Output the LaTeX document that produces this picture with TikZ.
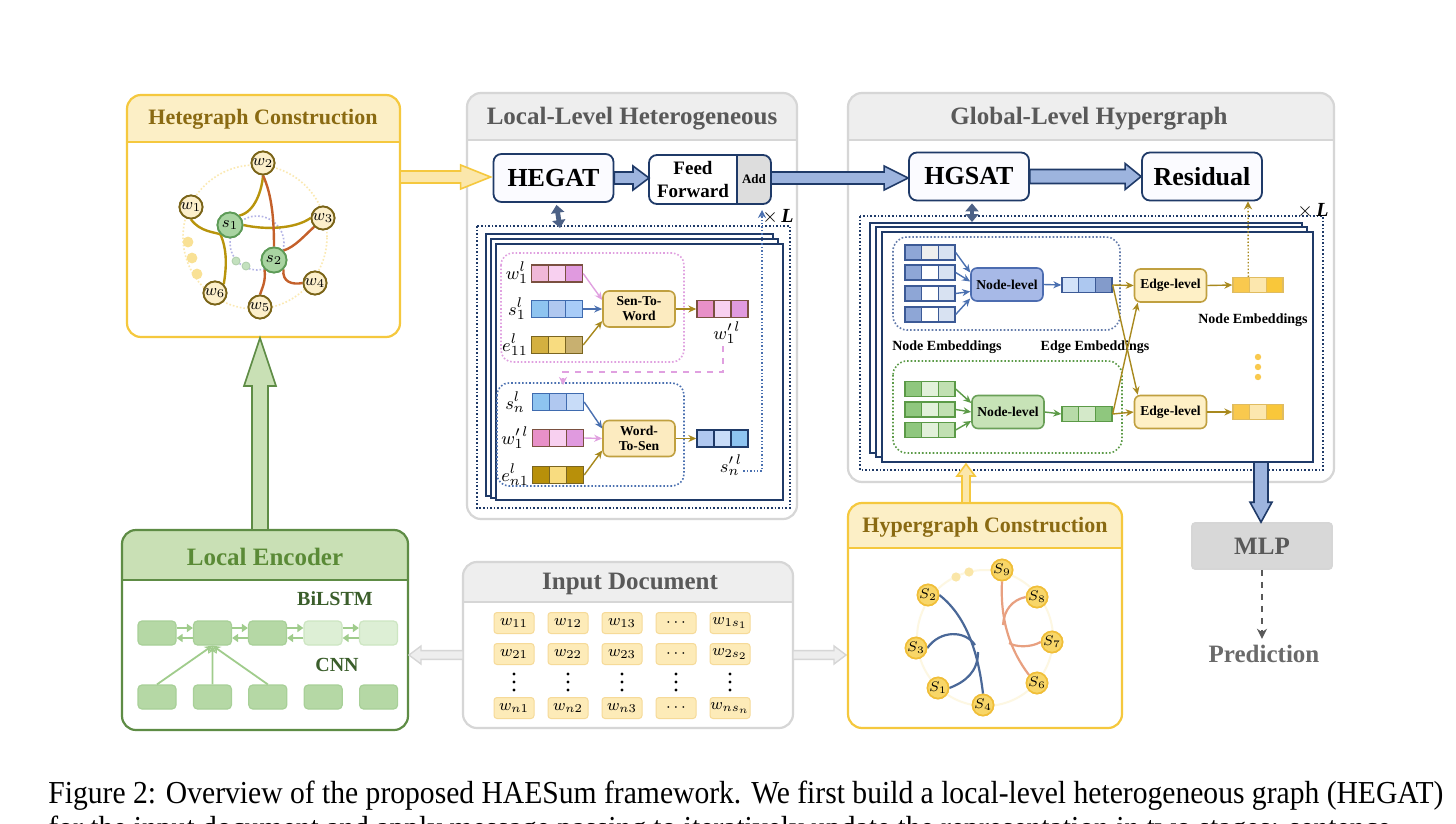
\documentclass[tikz,border=0pt]{standalone}
\usepackage{fontspec}
\setmainfont{Liberation Serif}
\usetikzlibrary{arrows.meta,calc}
\definecolor{ybord}{HTML}{F5C83E}
\definecolor{yhead}{HTML}{FCEFC6}
\definecolor{ytitle}{HTML}{8A6A12}
\definecolor{gbord}{HTML}{D6D6D6}
\definecolor{ghead}{HTML}{EEEEEE}
\definecolor{gtitle}{HTML}{595959}
\definecolor{navy}{HTML}{1F3A68}
\definecolor{barrow}{HTML}{9DB4DE}
\definecolor{grbord}{HTML}{5E8C45}
\definecolor{grhead}{HTML}{C9E0B5}
\definecolor{grtitle}{HTML}{5A8A36}
\definecolor{grdark}{HTML}{3B5E2B}
\definecolor{olive}{HTML}{A8891E}
\definecolor{wfill}{HTML}{FCEFCB}
\definecolor{wbord}{HTML}{7A6418}
\definecolor{sfill}{HTML}{A9D4A2}
\definecolor{sbord}{HTML}{5D9B57}
\definecolor{eS}{HTML}{B8940C}
\definecolor{eT}{HTML}{C4602A}
\definecolor{boxfill}{HTML}{FCEBC0}
\definecolor{boxbord}{HTML}{C0A040}
\definecolor{pinkA}{HTML}{F0B8D8}
\definecolor{pinkB}{HTML}{F8D0F0}
\definecolor{pinkC}{HTML}{E09ADF}
\definecolor{pinkD}{HTML}{E890C8}
\definecolor{pinkbord}{HTML}{7A5040}
\definecolor{pinkline}{HTML}{E0A0E0}
\definecolor{blA}{HTML}{8EC4F0}
\definecolor{blB}{HTML}{B0C8F0}
\definecolor{blC}{HTML}{A8CCF8}
\definecolor{blD}{HTML}{C8DCF8}
\definecolor{blbord}{HTML}{3F6BAF}
\definecolor{blline}{HTML}{4A70B0}
\definecolor{goA}{HTML}{D4B040}
\definecolor{goB}{HTML}{F8DC80}
\definecolor{goC}{HTML}{C8B070}
\definecolor{goD}{HTML}{B8900A}
\definecolor{gobord}{HTML}{7A6520}
\definecolor{gbA}{HTML}{8EA6D6}
\definecolor{gbB}{HTML}{D8E2F2}
\definecolor{gbbord}{HTML}{3C5A96}
\definecolor{nlb}{HTML}{A7B9E7}
\definecolor{nlbb}{HTML}{4C6CB0}
\definecolor{ggA}{HTML}{8FC77E}
\definecolor{ggB}{HTML}{E2F1DA}
\definecolor{ggC}{HTML}{C1E0B2}
\definecolor{ggbord}{HTML}{5B9A47}
\definecolor{nlg}{HTML}{C7E3B7}
\definecolor{nlgb}{HTML}{6AA058}
\definecolor{elf}{HTML}{FEF0C6}
\definecolor{ygA}{HTML}{F9C94E}
\definecolor{ygB}{HTML}{FCE7AE}
\definecolor{ygC}{HTML}{F9C73A}
\definecolor{ygbord}{HTML}{E0BC60}
\definecolor{lcell}{HTML}{B5D8A5}
\definecolor{lcellb}{HTML}{A8D098}
\definecolor{lcellL}{HTML}{DDEFD5}
\definecolor{lcellLb}{HTML}{CDE6C2}
\definecolor{lgarrow}{HTML}{A0CC8C}
\definecolor{docfill}{HTML}{FDEBB8}
\definecolor{docbord}{HTML}{F6DA98}
\definecolor{hnf}{HTML}{F8D668}
\definecolor{hnb}{HTML}{F0BE38}
\definecolor{hblue}{HTML}{4A6898}
\definecolor{horange}{HTML}{E8A080}

\newcommand\harrow[6]{\path[#6] let \p1=#1, \p2=#2 in
 (\x1,{\y1+#3}) -- ({\x2-(#5)},{\y1+#3}) -- ({\x2-(#5)},{\y1+#4}) -- (\x2,\y1) -- ({\x2-(#5)},{\y1-#4}) -- ({\x2-(#5)},{\y1-#3}) -- (\x1,{\y1-#3}) -- cycle;}
\newcommand\varrow[6]{\path[#6] let \p1=#1, \p2=#2 in
 ({\x1-#3},\y1) -- ({\x1-#3},{\y2-(#5)}) -- ({\x1-#4},{\y2-(#5)}) -- (\x1,\y2) -- ({\x1+#4},{\y2-(#5)}) -- ({\x1+#3},{\y2-(#5)}) -- ({\x1+#3},\y1) -- cycle;}
\newcommand\panel[7]{%
 \begin{scope}
 \clip[rounded corners=7pt] (#1,#2) rectangle (#3,#4);
 \fill[white] (#1,#2) rectangle (#3,#4);
 \fill[#6] (#1,#2) rectangle (#3,#5);
 \end{scope}
 \draw[#7, line width=1.1pt, rounded corners=7pt] (#1,#2) rectangle (#3,#4);
 \draw[#7, line width=1.1pt] (#1,#5) -- (#3,#5);}
\newcommand\emb[9]{%
 \node[#2,fill=#6,draw=#9] (#1a) at ({#4-#3},#5) {};
 \node[#2,fill=#7,draw=#9] (#1b) at (#4,#5) {};
 \node[#2,fill=#8,draw=#9] (#1c) at ({#4+#3},#5) {};}

\begin{document}
\begin{tikzpicture}[x=0.5pt,y=-0.5pt,
 ttl/.style={font=\bfseries\fontsize{11}{13}\selectfont},
 bigttl/.style={font=\bfseries\fontsize{12.5}{14}\selectfont},
 cellbox/.style={rectangle, minimum width=8.5pt, minimum height=8.5pt, inner sep=0pt, line width=0.7pt},
 gcell/.style={rectangle, minimum width=8.35pt, minimum height=7.5pt, inner sep=0pt, line width=0.6pt},
 wnode/.style={circle, minimum size=11.5pt, inner sep=0pt, fill=wfill, draw=wbord, line width=0.9pt, font=\fontsize{8.5}{8.5}\selectfont},
 snode/.style={circle, minimum size=12.5pt, inner sep=0pt, fill=sfill, draw=sbord, line width=0.9pt, font=\fontsize{8.5}{8.5}\selectfont},
 hnode/.style={circle, minimum size=10pt, inner sep=0pt, fill=hnf, draw=hnb, line width=0.8pt, font=\fontsize{7.5}{7.5}\selectfont},
 mainbox/.style={rectangle, rounded corners=4pt, fill=ghead!60!blue!4, draw=navy, line width=0.9pt, minimum width=60pt, minimum height=24pt, font=\bfseries\fontsize{13}{13}\selectfont},
 opbox/.style={rectangle, rounded corners=3pt, fill=boxfill, draw=boxbord, line width=0.8pt, minimum width=36pt, minimum height=18pt, align=center, inner sep=1pt, font=\bfseries\fontsize{6.8}{7.5}\selectfont},
 lvlbox/.style={rectangle, rounded corners=3pt, line width=0.8pt, minimum width=36pt, minimum height=16.5pt, inner sep=1pt, font=\bfseries\fontsize{6.8}{7.5}\selectfont},
 mlab/.style={font=\fontsize{9.5}{9.5}\selectfont, inner sep=0pt},
 smalllab/.style={font=\bfseries\fontsize{7}{8}\selectfont, inner sep=0pt},
 lcellst/.style={rectangle, rounded corners=2pt, minimum width=19pt, minimum height=12pt, inner sep=0pt, line width=0.6pt},
 doccell/.style={rectangle, rounded corners=1.5pt, minimum width=20pt, minimum height=10.5pt, inner sep=0pt, fill=docfill, draw=docbord, line width=0.5pt, font=\fontsize{8.5}{8.5}\selectfont},
 fatblue/.style={fill=barrow, draw=navy, line width=0.8pt},
 harr/.style={-{Stealth[length=4pt,width=3.5pt]}, line width=0.7pt},
 stackp/.style={fill=white, draw=navy, line width=0.7pt},
 dotbox/.style={draw=navy, densely dotted, line width=0.8pt}
]
\useasboundingbox[fill=white] (0,0) rectangle (1456,824);

%================ Hetegraph Construction
\panel{127}{95}{400}{337}{142}{yhead}{ybord}
\node[ttl, text=ytitle] (hetetitle) at (263,119) {Hetegraph Construction};
\coordinate (hete-e) at (400,177);
\coordinate (hete-s) at (260,338);
\draw[ybord!40, densely dotted, line width=0.8pt] (255,237) circle (36pt);
\draw[gray!50!blue!40, densely dotted, line width=0.8pt] (257,243) circle (13.5pt);
\foreach \p in {(188,242),(192,258),(197,274)} \fill[ybord!55] \p circle (2.7pt);
\foreach \p in {(236,261),(246,266)} \filldraw[fill=sfill!70, draw=sbord!50, line width=0.4pt] \p circle (2pt);
\node[snode] (s1) at (230,225) {$s_1$};
\node[snode] (s2) at (274,260) {$s_2$};
\node[wnode] (w1) at (191,207) {$w_1$};
\node[wnode] (w2) at (263,163) {$w_2$};
\node[wnode] (w3) at (323,218) {$w_3$};
\node[wnode] (w4) at (315,283) {$w_4$};
\node[wnode] (w5) at (260,307) {$w_5$};
\node[wnode] (w6) at (215,293) {$w_6$};
\begin{scope}[line width=1.2pt]
\draw[eS] (s1.north east) .. controls (255,212) and (262,190) .. (w2.south);
\draw[eS] (s1.east) .. controls (265,230) and (295,229) .. (w3.west);
\draw[eS] (w1.south) .. controls (200,232) and (215,232) .. (s1.south west);
\draw[eS] (s1.south west) .. controls (228,252) and (226,270) .. (w6.north east);
\draw[eT] (s2.north) .. controls (274,220) and (272,195) .. (w2.south);
\draw[eT] (s2.north east) .. controls (295,247) and (305,235) .. (w3.south west);
\draw[eT] (s2.south east) .. controls (282,282) and (292,285) .. (w4.west);
\draw[eT] (s2.south west) .. controls (266,282) and (262,288) .. (w5.north);
\end{scope}
\node[snode] at (s1) {$s_1$};
\node[snode] at (s2) {$s_2$};
\foreach \n/\t in {w1/1,w2/2,w3/3,w4/4,w5/5,w6/6} \node[wnode] at (\n) {$w_\t$};

%================ Local-Level Heterogeneous
\panel{467}{93}{797}{519}{140}{ghead}{gbord}
\node[bigttl, text=gtitle] (loctitle) at (632,119) {Local-Level Heterogeneous};
\node[mainbox] (hegat) at (553.5,178) {HEGAT};
\begin{scope}
\clip[rounded corners=4pt] (649,155) rectangle (771,204);
\fill[white] (649,155) rectangle (737,204);
\fill[ghead!85!gray] (737,155) rectangle (771,204);
\end{scope}
\draw[navy, line width=0.9pt, rounded corners=4pt] (649,155) rectangle (771,204);
\draw[navy, line width=0.9pt] (737,155) -- (737,204);
\node[align=center, font=\bfseries\fontsize{9.5}{11.5}\selectfont, inner sep=0pt] (ff) at (693,179.5) {Feed\\Forward};
\node[font=\bfseries\fontsize{6.5}{7}\selectfont, inner sep=0pt] (addn) at (754,179.5) {Add};
\coordinate (ff-w) at (649,178);
\coordinate (add-e) at (771,178);
\harrow{(hete-e)}{($(hegat.west)+(-2,0)$)}{3pt}{6pt}{15pt}{fill=yhead!80!ybord, draw=ybord, line width=0.8pt}
\harrow{(hegat.east)}{(ff-w)}{3pt}{6pt}{8pt}{fatblue}

% stack
\draw[dotbox] (477,226) rectangle (790,508);
\draw[stackp] (486,234) rectangle (773,496);
\draw[stackp] (491,239) rectangle (778,498);
\draw[stackp] (496,244) rectangle (783,500);
\draw[navy!80, line width=2.4pt, {Triangle[length=4pt,width=6.5pt]}-{Triangle[length=4pt,width=6.5pt]}] ($(hegat.south)+(3,2)$) -- (560,228);
\node[inner sep=0pt, font=\fontsize{10}{10}\selectfont] (xl1) at (778,217) {$\times$\,\textbf{\textit{L}}};

\draw[pinkline, densely dotted, line width=0.8pt, rounded corners=6pt] (501,253) rectangle (684,362);
\emb{wa}{cellbox}{17}{557}{273.5}{pinkA}{pinkB}{pinkC}{pinkbord}
\emb{sa}{cellbox}{17}{557}{309}{blA}{blB}{blC}{blbord}
\emb{ea}{cellbox}{17}{557}{345}{goA}{goB}{goC}{gobord}
\node[mlab] (walab) at (517,273) {$w_1^l$};
\node[mlab] (salab) at (517,309) {$s_1^l$};
\node[mlab] (ealab) at (515,345) {$e_{11}^l$};
\node[opbox] (stw) at (639,309) {Sen-To-\\Word};
\draw[harr, pinkline] (wac.east) -- ($(stw.west)+(0,-9)$);
\draw[harr, blline] (sac.east) -- (stw.west);
\draw[harr, olive] (eac.east) -- ($(stw.west)+(0,12)$);
\emb{wo}{cellbox}{17}{722.5}{309}{pinkD}{pinkB}{pinkC}{pinkbord}
\draw[harr, olive] (stw.east) -- (woa.west);
\node[mlab] (wolab) at (727,333) {$w_1'^{\,l}$};

\draw[blline, densely dotted, line width=0.8pt, rounded corners=6pt] (497,383) rectangle (684,486);
\draw[pinkline, dashed, line width=0.9pt, -{Stealth[length=4pt,width=4pt]}] ($(wolab.south)+(-4,2)$) -- (723,372) -- (563,372) -- (563,385);
\emb{sb}{cellbox}{17}{558}{402}{blA}{blB}{blD}{blbord}
\emb{wb}{cellbox}{17}{558}{438}{pinkD}{pinkB}{pinkC}{pinkbord}
\emb{eb}{cellbox}{17}{558}{475}{goD}{goB}{goD}{gobord}
\node[mlab] (sblab) at (515,402) {$s_n^l$};
\node[mlab] (wblab) at (515,438) {$w_1'^{\,l}$};
\node[mlab] (eblab) at (515,475) {$e_{n1}^l$};
\node[opbox] (wts) at (639,438.5) {Word-\\To-Sen};
\draw[harr, blline] (sbc.east) -- ($(wts.west)+(0,-10)$);
\draw[harr, pinkline] (wbc.east) -- (wts.west);
\draw[harr, olive] (ebc.east) -- ($(wts.west)+(0,12)$);
\emb{so}{cellbox}{17}{722.5}{438.5}{blB}{blD}{blA}{navy}
\draw[harr, olive] (wts.east) -- (soa.west);
\node[mlab] (solab) at (731,465) {$s_n'^{\,l}$};
\draw[blline, densely dotted, line width=0.7pt, -{Stealth[length=4pt,width=4pt]}] ($(solab.east)+(1,6)$) -| (762,210);

%================ Global-Level Hypergraph
\panel{848}{93}{1334}{482}{140}{ghead}{gbord}
\node[bigttl, text=gtitle] (globtitle) at (1089,119) {Global-Level Hypergraph};
\node[mainbox] (hgsat) at (969,176.5) {HGSAT};
\node[mainbox] (resid) at (1202,176.5) {Residual};
\harrow{(add-e)}{(hgsat.west)}{3pt}{6pt}{12pt}{fatblue}
\harrow{(hgsat.east)}{(resid.west)}{3.5pt}{6.5pt}{8pt}{fatblue}

\draw[dotbox] (860,216) rectangle (1323,470);
\draw[stackp] (870,223) rectangle (1302,453);
\draw[stackp] (876,227) rectangle (1307,457);
\draw[stackp] (882,232) rectangle (1313,462);
\draw[navy!80, line width=2.4pt, {Triangle[length=4pt,width=6.5pt]}-{Triangle[length=4pt,width=6.5pt]}] ($(hgsat.south)+(3,2)$) -- (972,222);
\node[inner sep=0pt, font=\fontsize{10}{10}\selectfont] (xl2) at (1313,211) {$\times$\,\textbf{\textit{L}}};

\draw[gbbord!80, densely dotted, line width=0.8pt, rounded corners=7pt] (893,237) rectangle (1120,330);
\emb{ga}{gcell}{16.7}{930}{252.5}{gbA}{ghead}{gbB}{gbbord}
\emb{gb}{gcell}{16.7}{930}{272.5}{gbA}{white}{gbB}{gbbord}
\emb{gc}{gcell}{16.7}{930}{293.5}{gbA}{white}{gbB}{gbbord}
\emb{gd}{gcell}{16.7}{930}{314.5}{gbA}{white}{gbB}{gbbord}
\node[lvlbox, fill=nlb, draw=nlbb] (nl1) at (1007,284.5) {Node-level};
\draw[harr, blline] (gac.east) -- ($(nl1.west)+(0,-12)$);
\draw[harr, blline] (gbc.east) -- ($(nl1.west)+(0,-3)$);
\draw[harr, blline] (gcc.east) -- ($(nl1.west)+(0,7)$);
\draw[harr, blline] (gdc.east) -- ($(nl1.west)+(0,14)$);
\emb{ge}{gcell}{16.7}{1087}{285}{blD!80!white}{blB!90!blA}{gbA!90!navy}{gbbord}
\draw[harr, blline] (nl1.east) -- (gea.west);
\node[smalllab] (nelab) at (947,347) {Node Embeddings};
\node[smalllab] (eelab) at (1095,347) {Edge Embeddings};

\draw[ggbord, densely dotted, line width=0.8pt, rounded corners=7pt] (893,361) rectangle (1122,453);
\emb{gf}{gcell}{16.7}{930}{389}{ggA}{ggB}{ggC}{ggbord}
\emb{gg}{gcell}{16.7}{930}{409.5}{ggA}{ggB}{ggC}{ggbord}
\emb{gh}{gcell}{16.7}{930}{430}{ggA}{ggB}{ggC}{ggbord}
\node[lvlbox, fill=nlg, draw=nlgb] (nl2) at (1008,412) {Node-level};
\draw[harr, ggbord] (gfc.east) -- ($(nl2.west)+(0,-9)$);
\draw[harr, ggbord] (ggc.east) -- (nl2.west);
\draw[harr, ggbord] (ghc.east) -- ($(nl2.west)+(0,9)$);
\emb{gi}{gcell}{16.7}{1087}{414}{ggC!80!ggA}{ggC!70!white}{ggA}{ggbord}
\draw[harr, ggbord] (nl2.east) -- (gia.west);

\node[lvlbox, fill=elf, draw=boxbord] (el1) at (1170.5,285.5) {Edge-level};
\node[lvlbox, fill=elf, draw=boxbord] (el2) at (1170.5,412) {Edge-level};
\draw[harr, olive] (gec.east) -- (el1.west);
\draw[harr, olive] (gec.east) -- ($(el2.north west)+(4,0)$);
\draw[harr, olive] (gic.east) -- (el2.west);
\draw[harr, olive] (gic.east) -- ($(el1.south west)+(4,0)$);
\emb{gj}{gcell}{16.7}{1258}{285}{ygA}{ygB}{ygC}{ygbord}
\emb{gk}{gcell}{16.7}{1258}{412}{ygA}{ygB}{ygC}{ygbord}
\draw[harr, olive] (el1.east) -- (gja.west);
\draw[harr, olive] (el2.east) -- (gka.west);
\node[smalllab] (nelab2) at (1253,320) {Node Embeddings};
\foreach \yy in {357,367,377} \fill[ygA] (1258,\yy) circle (1.6pt);
\draw[olive, densely dotted, line width=0.7pt, -{Stealth[length=4pt,width=4pt]}] ($(gja.north)+(7,0)$) -- ($(resid.south)+(46,0)$);

%================ MLP / Prediction
\node[rectangle, rounded corners=1.5pt, fill=ghead!80!gray, draw=gbord, line width=0.8pt, minimum width=70pt, minimum height=23pt, text=gtitle, font=\bfseries\fontsize{12.5}{13}\selectfont] (mlp) at (1262,546) {MLP};
\coordinate (gstack-s) at (1261,462);
\varrow{(gstack-s)}{($(mlp.north)+(-1,0)$)}{3.5pt}{5.5pt}{-10pt}{fatblue}
\node[text=gtitle!90!white, font=\bfseries\fontsize{12.5}{13}\selectfont, inner sep=0pt] (pred) at (1264,654) {Prediction};
\draw[gtitle, dashed, line width=0.9pt, -{Stealth[length=5pt,width=5pt]}] (mlp.south) -- ($(pred.north)+(-2,-6)$);

%================ Local Encoder
\panel{122}{530}{408}{730}{580}{grhead}{grbord}
\node[bigttl, text=grtitle] (lenctitle) at (265,557) {Local Encoder};
\node[font=\bfseries\fontsize{10}{11}\selectfont, text=grdark, inner sep=0pt] (bilstm) at (335,599) {BiLSTM};
\node[font=\bfseries\fontsize{10}{11}\selectfont, text=grdark, inner sep=0pt] (cnn) at (337,665) {CNN};
\node[lcellst, fill=lcell, draw=lcellb] (t1) at (157,633) {};
\node[lcellst, fill=lcell, draw=lcellb] (t2) at (212.5,633) {};
\node[lcellst, fill=lcell, draw=lcellb] (t3) at (267.5,633) {};
\node[lcellst, fill=lcellL, draw=lcellLb] (t4) at (323,633) {};
\node[lcellst, fill=lcellL, draw=lcellLb] (t5) at (378.5,633) {};
\foreach \i in {1,...,5} \node[lcellst, fill=lcell, draw=lcellb] (b\i) at ({157+55.4*(\i-1)},697) {};
\foreach \a/\b in {t1/t2,t2/t3,t3/t4,t4/t5} {
 \draw[lgarrow, line width=1.4pt, -{Triangle[length=3pt,width=4pt]}] ($(\a.east)+(0,-5)$) -- ($(\b.west)+(0,-5)$);
 \draw[lgarrow, line width=1.4pt, -{Triangle[length=3pt,width=4pt]}] ($(\b.west)+(0,5)$) -- ($(\a.east)+(0,5)$);
}
\foreach \b in {b1,b2,b3} \draw[lgarrow, line width=0.9pt, -{Stealth[length=4pt,width=4pt]}] (\b.north) -- (t2.south);
\coordinate (lenc-n) at (260,530);
\varrow{(lenc-n)}{(hete-s)}{4pt}{8pt}{24pt}{fill=grhead, draw=grbord, line width=0.8pt}

%================ Input Document
\panel{463}{562}{793}{728}{602}{ghead}{gbord}
\node[bigttl, text=gtitle] (doctitle) at (630,584) {Input Document};
\node[doccell] (d11) at (514,623) {$w_{11}$};
\node[doccell] (d12) at (568,623) {$w_{12}$};
\node[doccell] (d13) at (622,623) {$w_{13}$};
\node[doccell] (d14) at (676,623) {$\cdots$};
\node[doccell] (d15) at (730,623) {$w_{1s_1}$};
\node[doccell] (d21) at (514,654) {$w_{21}$};
\node[doccell] (d22) at (568,654) {$w_{22}$};
\node[doccell] (d23) at (622,654) {$w_{23}$};
\node[doccell] (d24) at (676,654) {$\cdots$};
\node[doccell] (d25) at (730,654) {$w_{2s_2}$};
\foreach \xx in {514,568,622,676,730} \foreach \yy in {674,682,690} \fill[black] (\xx,\yy) circle (0.85pt);
\node[doccell] (dn1) at (514,708) {$w_{n1}$};
\node[doccell] (dn2) at (568,708) {$w_{n2}$};
\node[doccell] (dn3) at (622,708) {$w_{n3}$};
\node[doccell] (dn4) at (676,708) {$\cdots$};
\node[doccell] (dn5) at (730,708) {$w_{ns_n}$};
\coordinate (doc-w) at (463,655);
\coordinate (doc-e) at (793,655);
\coordinate (lenc-e) at (409,655);
\coordinate (hyp-w) at (846,655);
\harrow{(doc-w)}{(lenc-e)}{2.2pt}{4.5pt}{-6pt}{fill=ghead, draw=gbord, line width=0.7pt}
\harrow{(doc-e)}{(hyp-w)}{2.2pt}{4.5pt}{6pt}{fill=ghead, draw=gbord, line width=0.7pt}

%================ Hypergraph Construction
\panel{848}{503}{1122}{728}{548}{yhead}{ybord}
\node[ttl, text=ytitle] (hyptitle) at (985,527) {Hypergraph Construction};
\coordinate (hyp-n) at (966,503);
\coordinate (gl-s) at (966,464);
\varrow{(hyp-n)}{(gl-s)}{2pt}{4.5pt}{6pt}{fill=yhead!80!ybord, draw=ybord, line width=0.8pt}
\draw[ybord!15, line width=1pt] (985,638) circle (34pt);
\foreach \p in {(956,577),(969,572)} \fill[ybord!45] \p circle (2.3pt);
\node[hnode] (S9) at (1002,570) {$S_9$};
\node[hnode] (S8) at (1037,597) {$S_8$};
\node[hnode] (S7) at (1052,642) {$S_7$};
\node[hnode] (S6) at (1037,683) {$S_6$};
\node[hnode] (S4) at (983,705) {$S_4$};
\node[hnode] (S1) at (938,688) {$S_1$};
\node[hnode] (S3) at (916,648) {$S_3$};
\node[hnode] (S2) at (928,595) {$S_2$};
\coordinate (hb1) at (975,645);
\coordinate (hb2) at (978,652);
\coordinate (ho1) at (1003,625);
\coordinate (ho2) at (1009,643);
\begin{scope}[line width=1.1pt]
\draw[hblue] (S2.east) .. controls (965,615) and (978,650) .. (S4.north);
\draw[hblue] (S3.east) .. controls (940,630) and (965,630) .. (hb1);
\draw[hblue] (S1.east) .. controls (965,682) and (978,672) .. (hb2);
\draw[horange] (S9.south) .. controls (1000,620) and (1010,650) .. (S6.north west);
\draw[horange] (S8.west) .. controls (1012,600) and (1004,610) .. (ho1);
\draw[horange] (S7.west) .. controls (1030,648) and (1015,647) .. (ho2);
\end{scope}
\foreach \n/\t in {S9/9,S8/8,S7/7,S6/6,S4/4,S1/1,S3/3,S2/2} \node[hnode] at (\n) {$S_\t$};

%================ Caption
\node[anchor=base west, inner sep=0pt, font=\fontsize{16}{16}\selectfont] (cap1) at (48,803) {\scalebox{0.925}[1]{Figure 2: Overview of the proposed HAESum framework. We first build a local-level heterogeneous graph (HEGAT)}};
\node[anchor=base west, inner sep=0pt, font=\fontsize{16}{16}\selectfont] (cap2) at (48,838) {\scalebox{0.925}[1]{for the input document and apply message passing to iteratively update the representation in two stages: sentence-}};
\end{tikzpicture}
\end{document}
